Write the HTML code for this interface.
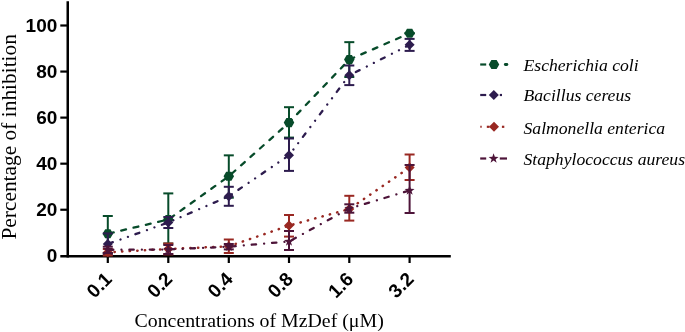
<!DOCTYPE html>
<html><head><meta charset="utf-8"><style>
html,body{margin:0;padding:0;background:#fff;width:685px;height:332px;overflow:hidden}
svg{display:block}
.tk{font-family:"Liberation Sans",Arial,sans-serif;font-weight:bold;font-size:19px;fill:#000}
.ti{font-family:"Liberation Serif","Times New Roman",serif;fill:#000}
.lg{font-family:"Liberation Serif","Times New Roman",serif;font-style:italic;font-size:17.65px;fill:#000}
</style></head><body>
<svg width="685" height="332" viewBox="0 0 685 332">
<line x1="67.75" y1="1.2" x2="67.75" y2="257.5" stroke="#000" stroke-width="2.5"/>
<line x1="60.3" y1="256.2" x2="450.8" y2="256.2" stroke="#000" stroke-width="2.5"/>
<line x1="60.3" y1="209.74" x2="67" y2="209.74" stroke="#000" stroke-width="2.2"/>
<line x1="60.3" y1="163.68" x2="67" y2="163.68" stroke="#000" stroke-width="2.2"/>
<line x1="60.3" y1="117.62" x2="67" y2="117.62" stroke="#000" stroke-width="2.2"/>
<line x1="60.3" y1="71.56" x2="67" y2="71.56" stroke="#000" stroke-width="2.2"/>
<line x1="60.3" y1="25.50" x2="67" y2="25.50" stroke="#000" stroke-width="2.2"/>
<line x1="107.8" y1="257" x2="107.8" y2="263" stroke="#000" stroke-width="2.2"/>
<line x1="168.3" y1="257" x2="168.3" y2="263" stroke="#000" stroke-width="2.2"/>
<line x1="228.8" y1="257" x2="228.8" y2="263" stroke="#000" stroke-width="2.2"/>
<line x1="289.0" y1="257" x2="289.0" y2="263" stroke="#000" stroke-width="2.2"/>
<line x1="349.3" y1="257" x2="349.3" y2="263" stroke="#000" stroke-width="2.2"/>
<line x1="409.6" y1="257" x2="409.6" y2="263" stroke="#000" stroke-width="2.2"/>
<text x="57.3" y="262.10" text-anchor="end" class="tk">0</text>
<text x="57.3" y="216.04" text-anchor="end" class="tk">20</text>
<text x="57.3" y="169.98" text-anchor="end" class="tk">40</text>
<text x="57.3" y="123.92" text-anchor="end" class="tk">60</text>
<text x="57.3" y="77.86" text-anchor="end" class="tk">80</text>
<text x="57.3" y="31.80" text-anchor="end" class="tk">100</text>
<text transform="translate(113.1,280.2) rotate(-45)" text-anchor="end" class="tk">0.1</text>
<text transform="translate(173.60000000000002,280.2) rotate(-45)" text-anchor="end" class="tk">0.2</text>
<text transform="translate(234.10000000000002,280.2) rotate(-45)" text-anchor="end" class="tk">0.4</text>
<text transform="translate(294.3,280.2) rotate(-45)" text-anchor="end" class="tk">0.8</text>
<text transform="translate(354.6,280.2) rotate(-45)" text-anchor="end" class="tk">1.6</text>
<text transform="translate(414.90000000000003,280.2) rotate(-45)" text-anchor="end" class="tk">3.2</text>
<text transform="translate(16.3,239.6) rotate(-90)" class="ti" style="font-size:21.4px">Percentage of inhibition</text>
<text x="134.5" y="327" class="ti" style="font-size:19.85px">Concentrations of MzDef (μM)</text>
<polyline points="107.8,233.7 168.3,219.5 228.8,176.3 289.0,122.6 349.3,59.6 409.6,33.3" fill="none" stroke="#074b2a" stroke-width="2.3" stroke-dasharray="4.9 7.75" stroke-linecap="round" stroke-dashoffset="-1.15"/>
<line x1="107.8" y1="216.0" x2="107.8" y2="253.0" stroke="#074b2a" stroke-width="2"/>
<line x1="102.8" y1="216.0" x2="112.8" y2="216.0" stroke="#074b2a" stroke-width="2"/>
<line x1="102.8" y1="253.0" x2="112.8" y2="253.0" stroke="#074b2a" stroke-width="2"/>
<line x1="168.3" y1="193.4" x2="168.3" y2="243.5" stroke="#074b2a" stroke-width="2"/>
<line x1="163.3" y1="193.4" x2="173.3" y2="193.4" stroke="#074b2a" stroke-width="2"/>
<line x1="163.3" y1="243.5" x2="173.3" y2="243.5" stroke="#074b2a" stroke-width="2"/>
<line x1="228.8" y1="155.35" x2="228.8" y2="197.7" stroke="#074b2a" stroke-width="2"/>
<line x1="223.8" y1="155.35" x2="233.8" y2="155.35" stroke="#074b2a" stroke-width="2"/>
<line x1="223.8" y1="197.7" x2="233.8" y2="197.7" stroke="#074b2a" stroke-width="2"/>
<line x1="289.0" y1="107.2" x2="289.0" y2="137.6" stroke="#074b2a" stroke-width="2"/>
<line x1="284.0" y1="107.2" x2="294.0" y2="107.2" stroke="#074b2a" stroke-width="2"/>
<line x1="284.0" y1="137.6" x2="294.0" y2="137.6" stroke="#074b2a" stroke-width="2"/>
<line x1="349.3" y1="42.15" x2="349.3" y2="77.0" stroke="#074b2a" stroke-width="2"/>
<line x1="344.3" y1="42.15" x2="354.3" y2="42.15" stroke="#074b2a" stroke-width="2"/>
<line x1="344.3" y1="77.0" x2="354.3" y2="77.0" stroke="#074b2a" stroke-width="2"/>
<line x1="409.6" y1="33.3" x2="409.6" y2="33.3" stroke="#074b2a" stroke-width="2"/>
<line x1="404.6" y1="33.3" x2="414.6" y2="33.3" stroke="#074b2a" stroke-width="2"/>
<line x1="404.6" y1="33.3" x2="414.6" y2="33.3" stroke="#074b2a" stroke-width="2"/>
<polygon points="113.05,233.70 110.42,238.25 105.17,238.25 102.55,233.70 105.17,229.15 110.42,229.15" fill="#074b2a"/>
<polygon points="173.55,219.50 170.93,224.05 165.68,224.05 163.05,219.50 165.68,214.95 170.93,214.95" fill="#074b2a"/>
<polygon points="234.05,176.30 231.43,180.85 226.18,180.85 223.55,176.30 226.18,171.75 231.43,171.75" fill="#074b2a"/>
<polygon points="294.25,122.60 291.62,127.15 286.38,127.15 283.75,122.60 286.38,118.05 291.62,118.05" fill="#074b2a"/>
<polygon points="354.55,59.60 351.93,64.15 346.68,64.15 344.05,59.60 346.68,55.05 351.93,55.05" fill="#074b2a"/>
<polygon points="414.85,33.30 412.23,37.85 406.98,37.85 404.35,33.30 406.98,28.75 412.23,28.75" fill="#074b2a"/>
<polyline points="107.8,244.0 168.3,222.5 228.8,196.3 289.0,155.3 349.3,75.3 409.6,44.8" fill="none" stroke="#2d1c4e" stroke-width="2.3" stroke-dasharray="4.2 8.1 0.01 7.9 0.01 7.9" stroke-linecap="round" stroke-dashoffset="-1.15"/>
<line x1="107.8" y1="233.4" x2="107.8" y2="254.6" stroke="#2d1c4e" stroke-width="2"/>
<line x1="102.8" y1="233.4" x2="112.8" y2="233.4" stroke="#2d1c4e" stroke-width="2"/>
<line x1="102.8" y1="254.6" x2="112.8" y2="254.6" stroke="#2d1c4e" stroke-width="2"/>
<line x1="168.3" y1="217" x2="168.3" y2="228" stroke="#2d1c4e" stroke-width="2"/>
<line x1="163.3" y1="217" x2="173.3" y2="217" stroke="#2d1c4e" stroke-width="2"/>
<line x1="163.3" y1="228" x2="173.3" y2="228" stroke="#2d1c4e" stroke-width="2"/>
<line x1="228.8" y1="186.8" x2="228.8" y2="205.8" stroke="#2d1c4e" stroke-width="2"/>
<line x1="223.8" y1="186.8" x2="233.8" y2="186.8" stroke="#2d1c4e" stroke-width="2"/>
<line x1="223.8" y1="205.8" x2="233.8" y2="205.8" stroke="#2d1c4e" stroke-width="2"/>
<line x1="289.0" y1="138.5" x2="289.0" y2="170.9" stroke="#2d1c4e" stroke-width="2"/>
<line x1="284.0" y1="138.5" x2="294.0" y2="138.5" stroke="#2d1c4e" stroke-width="2"/>
<line x1="284.0" y1="170.9" x2="294.0" y2="170.9" stroke="#2d1c4e" stroke-width="2"/>
<line x1="349.3" y1="65.5" x2="349.3" y2="85.1" stroke="#2d1c4e" stroke-width="2"/>
<line x1="344.3" y1="65.5" x2="354.3" y2="65.5" stroke="#2d1c4e" stroke-width="2"/>
<line x1="344.3" y1="85.1" x2="354.3" y2="85.1" stroke="#2d1c4e" stroke-width="2"/>
<line x1="409.6" y1="38.9" x2="409.6" y2="50.9" stroke="#2d1c4e" stroke-width="2"/>
<line x1="404.6" y1="38.9" x2="414.6" y2="38.9" stroke="#2d1c4e" stroke-width="2"/>
<line x1="404.6" y1="50.9" x2="414.6" y2="50.9" stroke="#2d1c4e" stroke-width="2"/>
<polygon points="107.8,239.0 112.8,244.0 107.8,249.0 102.8,244.0" fill="#2d1c4e"/>
<polygon points="168.3,217.5 173.3,222.5 168.3,227.5 163.3,222.5" fill="#2d1c4e"/>
<polygon points="228.8,191.3 233.8,196.3 228.8,201.3 223.8,196.3" fill="#2d1c4e"/>
<polygon points="289.0,150.3 294.0,155.3 289.0,160.3 284.0,155.3" fill="#2d1c4e"/>
<polygon points="349.3,70.3 354.3,75.3 349.3,80.3 344.3,75.3" fill="#2d1c4e"/>
<polygon points="409.6,39.8 414.6,44.8 409.6,49.8 404.6,44.8" fill="#2d1c4e"/>
<polyline points="107.8,252.3 168.3,249.0 228.8,246.3 289.0,225.6 349.3,209.0 409.6,167.5" fill="none" stroke="#992822" stroke-width="2.5" stroke-dasharray="0.3 7.3" stroke-linecap="round" stroke-dashoffset="0.9"/>
<line x1="107.8" y1="249" x2="107.8" y2="255.5" stroke="#992822" stroke-width="2"/>
<line x1="102.8" y1="249" x2="112.8" y2="249" stroke="#992822" stroke-width="2"/>
<line x1="102.8" y1="255.5" x2="112.8" y2="255.5" stroke="#992822" stroke-width="2"/>
<line x1="168.3" y1="243.5" x2="168.3" y2="254.4" stroke="#992822" stroke-width="2"/>
<line x1="163.3" y1="243.5" x2="173.3" y2="243.5" stroke="#992822" stroke-width="2"/>
<line x1="163.3" y1="254.4" x2="173.3" y2="254.4" stroke="#992822" stroke-width="2"/>
<line x1="228.8" y1="239.5" x2="228.8" y2="253.0" stroke="#992822" stroke-width="2"/>
<line x1="223.8" y1="239.5" x2="233.8" y2="239.5" stroke="#992822" stroke-width="2"/>
<line x1="223.8" y1="253.0" x2="233.8" y2="253.0" stroke="#992822" stroke-width="2"/>
<line x1="289.0" y1="215.0" x2="289.0" y2="236.6" stroke="#992822" stroke-width="2"/>
<line x1="284.0" y1="215.0" x2="294.0" y2="215.0" stroke="#992822" stroke-width="2"/>
<line x1="284.0" y1="236.6" x2="294.0" y2="236.6" stroke="#992822" stroke-width="2"/>
<line x1="349.3" y1="195.8" x2="349.3" y2="220.6" stroke="#992822" stroke-width="2"/>
<line x1="344.3" y1="195.8" x2="354.3" y2="195.8" stroke="#992822" stroke-width="2"/>
<line x1="344.3" y1="220.6" x2="354.3" y2="220.6" stroke="#992822" stroke-width="2"/>
<line x1="409.6" y1="154.5" x2="409.6" y2="180.0" stroke="#992822" stroke-width="2"/>
<line x1="404.6" y1="154.5" x2="414.6" y2="154.5" stroke="#992822" stroke-width="2"/>
<line x1="404.6" y1="180.0" x2="414.6" y2="180.0" stroke="#992822" stroke-width="2"/>
<polygon points="107.8,247.3 112.8,252.3 107.8,257.3 102.8,252.3" fill="#992822"/>
<polygon points="168.3,244.0 173.3,249.0 168.3,254.0 163.3,249.0" fill="#992822"/>
<polygon points="228.8,241.3 233.8,246.3 228.8,251.3 223.8,246.3" fill="#992822"/>
<polygon points="289.0,220.6 294.0,225.6 289.0,230.6 284.0,225.6" fill="#992822"/>
<polygon points="349.3,204.0 354.3,209.0 349.3,214.0 344.3,209.0" fill="#992822"/>
<polygon points="409.6,162.5 414.6,167.5 409.6,172.5 404.6,167.5" fill="#992822"/>
<polyline points="107.8,249.8 168.3,249.5 228.8,246.7 289.0,241.5 349.3,208.5 409.6,190.5" fill="none" stroke="#4d1439" stroke-width="2.3" stroke-dasharray="4.4 8.1 0.01 7.9" stroke-linecap="round" stroke-dashoffset="-1.15"/>
<line x1="107.8" y1="246.7" x2="107.8" y2="253.0" stroke="#4d1439" stroke-width="2"/>
<line x1="102.8" y1="246.7" x2="112.8" y2="246.7" stroke="#4d1439" stroke-width="2"/>
<line x1="102.8" y1="253.0" x2="112.8" y2="253.0" stroke="#4d1439" stroke-width="2"/>
<line x1="168.3" y1="245.0" x2="168.3" y2="254.0" stroke="#4d1439" stroke-width="2"/>
<line x1="163.3" y1="245.0" x2="173.3" y2="245.0" stroke="#4d1439" stroke-width="2"/>
<line x1="163.3" y1="254.0" x2="173.3" y2="254.0" stroke="#4d1439" stroke-width="2"/>
<line x1="228.8" y1="244.0" x2="228.8" y2="249.4" stroke="#4d1439" stroke-width="2"/>
<line x1="223.8" y1="244.0" x2="233.8" y2="244.0" stroke="#4d1439" stroke-width="2"/>
<line x1="223.8" y1="249.4" x2="233.8" y2="249.4" stroke="#4d1439" stroke-width="2"/>
<line x1="289.0" y1="231.0" x2="289.0" y2="250.0" stroke="#4d1439" stroke-width="2"/>
<line x1="284.0" y1="231.0" x2="294.0" y2="231.0" stroke="#4d1439" stroke-width="2"/>
<line x1="284.0" y1="250.0" x2="294.0" y2="250.0" stroke="#4d1439" stroke-width="2"/>
<line x1="349.3" y1="204.3" x2="349.3" y2="212.7" stroke="#4d1439" stroke-width="2"/>
<line x1="344.3" y1="204.3" x2="354.3" y2="204.3" stroke="#4d1439" stroke-width="2"/>
<line x1="344.3" y1="212.7" x2="354.3" y2="212.7" stroke="#4d1439" stroke-width="2"/>
<line x1="409.6" y1="165.0" x2="409.6" y2="213.0" stroke="#4d1439" stroke-width="2"/>
<line x1="404.6" y1="165.0" x2="414.6" y2="165.0" stroke="#4d1439" stroke-width="2"/>
<line x1="404.6" y1="213.0" x2="414.6" y2="213.0" stroke="#4d1439" stroke-width="2"/>
<polygon points="107.80,244.60 109.03,248.10 112.75,248.19 109.80,250.45 110.86,254.01 107.80,251.90 104.74,254.01 105.80,250.45 102.85,248.19 106.57,248.10" fill="#4d1439"/>
<polygon points="168.30,244.30 169.53,247.80 173.25,247.89 170.30,250.15 171.36,253.71 168.30,251.60 165.24,253.71 166.30,250.15 163.35,247.89 167.07,247.80" fill="#4d1439"/>
<polygon points="228.80,241.50 230.03,245.00 233.75,245.09 230.80,247.35 231.86,250.91 228.80,248.80 225.74,250.91 226.80,247.35 223.85,245.09 227.57,245.00" fill="#4d1439"/>
<polygon points="289.00,236.30 290.23,239.80 293.95,239.89 291.00,242.15 292.06,245.71 289.00,243.60 285.94,245.71 287.00,242.15 284.05,239.89 287.77,239.80" fill="#4d1439"/>
<polygon points="349.30,203.30 350.53,206.80 354.25,206.89 351.30,209.15 352.36,212.71 349.30,210.60 346.24,212.71 347.30,209.15 344.35,206.89 348.07,206.80" fill="#4d1439"/>
<polygon points="409.60,185.30 410.83,188.80 414.55,188.89 411.60,191.15 412.66,194.71 409.60,192.60 406.54,194.71 407.60,191.15 404.65,188.89 408.37,188.80" fill="#4d1439"/>
<line x1="480.2" y1="64.5" x2="486.2" y2="64.5" stroke="#074b2a" stroke-width="2.2"/>
<line x1="505.3" y1="64.5" x2="506.9" y2="64.5" stroke="#074b2a" stroke-width="2.8" stroke-linecap="round"/>
<polygon points="499.25,64.50 496.62,69.05 491.38,69.05 488.75,64.50 491.38,59.95 496.62,59.95" fill="#074b2a"/>
<line x1="480.2" y1="95.0" x2="486.2" y2="95.0" stroke="#2d1c4e" stroke-width="2.2"/>
<line x1="499.8" y1="95.0" x2="502" y2="95.0" stroke="#2d1c4e" stroke-width="2.2"/>
<polygon points="493.8,90.0 498.8,95.0 493.8,100.0 488.8,95.0" fill="#2d1c4e"/>
<line x1="480" y1="126.8" x2="482" y2="126.8" stroke="#992822" stroke-width="2" opacity="0.7"/>
<line x1="486.8" y1="126.8" x2="489.5" y2="126.8" stroke="#992822" stroke-width="2.2"/>
<line x1="501.9" y1="126.8" x2="504.3" y2="126.8" stroke="#992822" stroke-width="2.2"/>
<polygon points="494,121.8 499.0,126.8 494,131.8 489.0,126.8" fill="#992822"/>
<line x1="480.2" y1="158.5" x2="486.2" y2="158.5" stroke="#4d1439" stroke-width="2.2"/>
<line x1="499.8" y1="158.5" x2="507" y2="158.5" stroke="#4d1439" stroke-width="2.2"/>
<polygon points="493.60,153.30 494.83,156.80 498.55,156.89 495.60,159.15 496.66,162.71 493.60,160.60 490.54,162.71 491.60,159.15 488.65,156.89 492.37,156.80" fill="#4d1439"/>
<text x="523.5" y="71.0" class="lg">Escherichia coli</text>
<text x="523.5" y="101.4" class="lg">Bacillus cereus</text>
<text x="523.5" y="133.6" class="lg">Salmonella enterica</text>
<text x="523.5" y="165.0" class="lg">Staphylococcus aureus</text>
</svg>
</body></html>
